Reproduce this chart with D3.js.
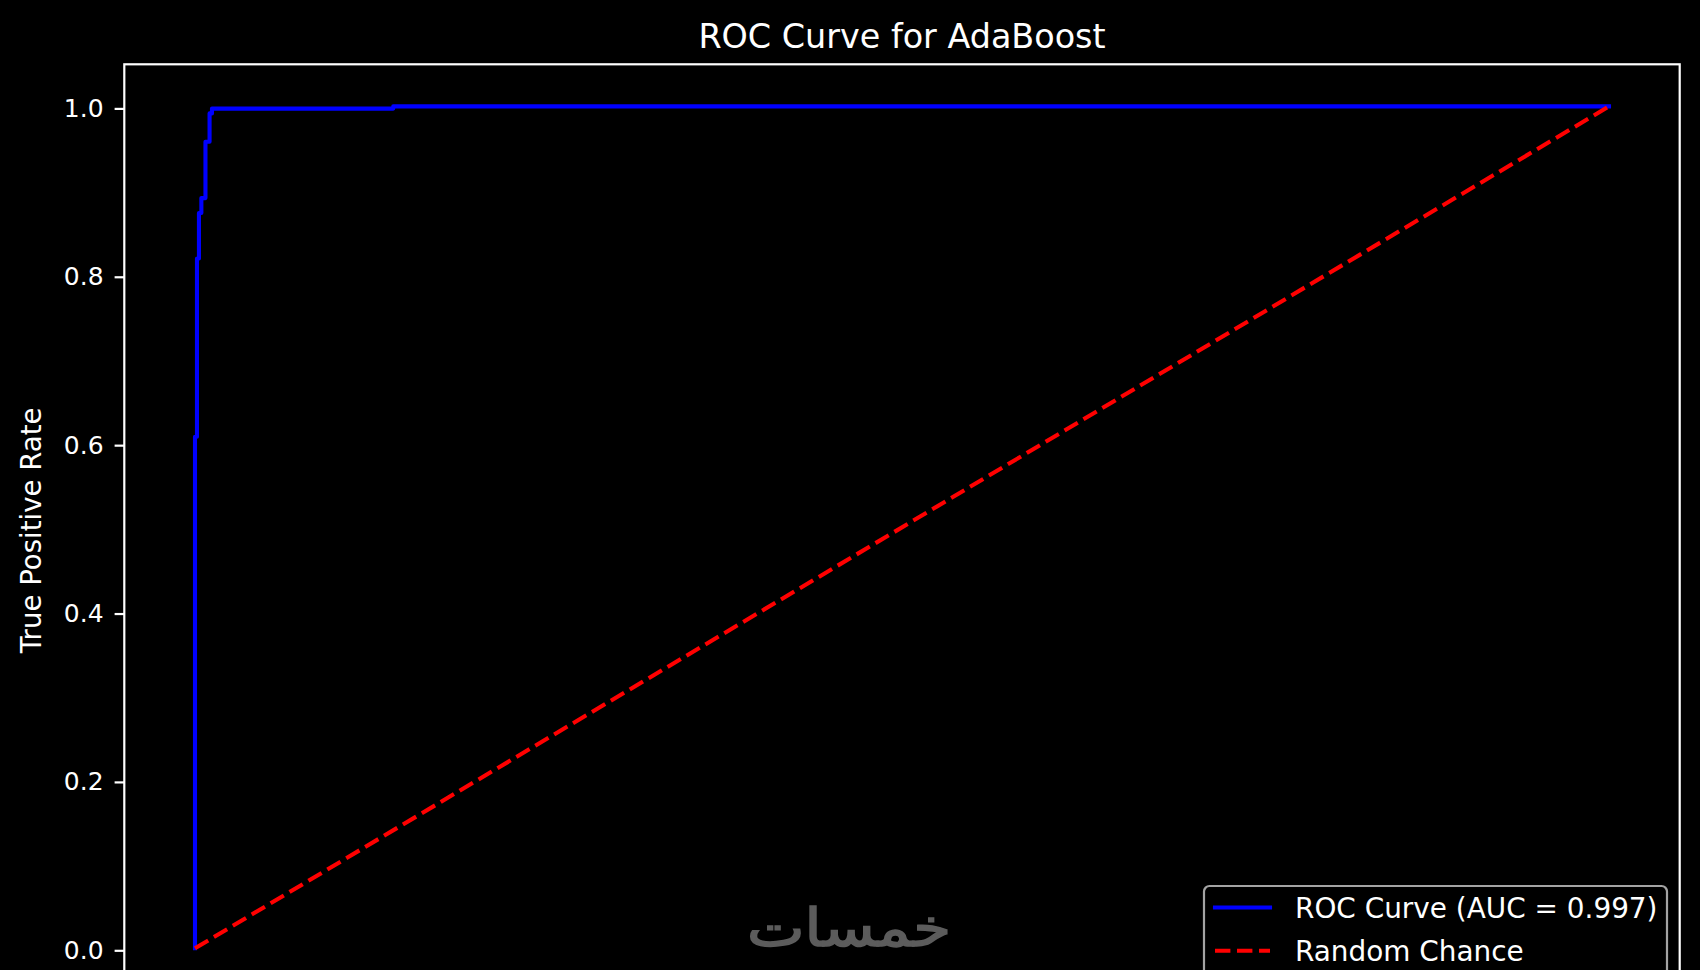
<!DOCTYPE html>
<html>
<head>
<meta charset="utf-8">
<script src="https://cdn.jsdelivr.net/npm/d3@7"></script>
<style>
  html, body { margin: 0; padding: 0; background: #000; overflow: hidden; }
  svg { display: block; }
  text { font-family: "DejaVu Sans", sans-serif; fill: #fff; }
</style>
</head>
<body>
<svg id="chart" width="1700" height="970"></svg>
<script>
// ---- data ----
const rocFpr = [0, 0, 0.0014, 0.0014, 0.0028, 0.0028, 0.0045, 0.0045, 0.0074, 0.0074, 0.0103, 0.0103, 0.0120, 0.0120, 0.1402, 0.1402, 1];
const rocTpr = [0, 0.6076, 0.6076, 0.8193, 0.8193, 0.8733, 0.8733, 0.8911, 0.8911, 0.958, 0.958, 0.9917, 0.9917, 0.9974, 0.9974, 1, 1];
const chanceFpr = [0, 1];
const chanceTpr = [0, 1];
const aucValue = [0.997];
const yTicks = [0, 0.2, 0.4, 0.6, 0.8, 1.0];
const titleText = "ROC Curve for AdaBoost";
const yLabelText = "True Positive Rate";
const legendLabels = ["ROC Curve (AUC = " + aucValue[0].toFixed(3) + ")", "Random Chance"];
const watermarkText = "خمسات";

// ---- layout ----
const svg = d3.select("#chart");
const L = 124.3, R = 1679.7, T = 64.3, B = 990.4;

const x = d3.scaleLinear().domain([-0.05, 1.05]).range([L, R]);
const y = d3.scaleLinear().domain([-0.05, 1.05]).range([B, T]);

svg.append("rect").attr("width", 1700).attr("height", 970).attr("fill", "#000");

svg.append("defs").append("clipPath").attr("id", "clip")
  .append("rect").attr("x", L).attr("y", T).attr("width", R - L).attr("height", B - T);

const plot = svg.append("g").attr("clip-path", "url(#clip)");

const line = d3.line().x(d => x(d[0])).y(d => y(d[1]));

const rocData = rocFpr.map((f, i) => [f, rocTpr[i]]);
const chanceData = chanceFpr.map((f, i) => [f, chanceTpr[i]]);

plot.append("path").datum(rocData)
  .attr("d", line).attr("fill", "none").attr("stroke", "#0000ff")
  .attr("stroke-width", 4.1).attr("stroke-linecap", "square").attr("stroke-linejoin", "round");

plot.append("path").datum(chanceData)
  .attr("d", line).attr("fill", "none").attr("stroke", "#ff0000")
  .attr("stroke-width", 4.1).attr("stroke-dasharray", "15.4,6.6").attr("stroke-linecap", "butt");

// frame
svg.append("rect").attr("x", L).attr("y", T).attr("width", R - L).attr("height", B - T)
  .attr("fill", "none").attr("stroke", "#fff").attr("stroke-width", 2.2);

// y axis
const yAxis = d3.axisLeft(y).tickValues(yTicks).tickFormat(d3.format(".1f"))
  .tickSize(9.7).tickPadding(11);
const gy = svg.append("g").attr("transform", `translate(${L},2)`).call(yAxis);
gy.select(".domain").remove();
gy.selectAll(".tick line").attr("stroke", "#fff").attr("stroke-width", 2.2);
gy.selectAll(".tick text").attr("fill", "#fff").style("font-size", "25px")
  .style("font-family", "'DejaVu Sans', sans-serif");

// y label
svg.append("text")
  .attr("transform", `translate(41,${(T + B) / 2 + 3}) rotate(-90)`)
  .attr("text-anchor", "middle")
  .style("font-size", "27.6px")
  .text(yLabelText);

// title
svg.append("text")
  .attr("x", (L + R) / 2).attr("y", 48)
  .attr("text-anchor", "middle")
  .style("font-size", "33.4px")
  .text(titleText);

// watermark
svg.append("text")
  .attr("x", 849).attr("y", 946)
  .attr("text-anchor", "middle")
  .attr("textLength", 204).attr("lengthAdjust", "spacingAndGlyphs")
  .style("font-size", "52px")
  .style("fill", "#5c5c5c")
  .style("stroke", "#5c5c5c").style("stroke-width", "1.6px")
  .attr("direction", "rtl")
  .text(watermarkText);

// legend
const lg = svg.append("g");
lg.append("rect").attr("x", 1204).attr("y", 886).attr("width", 463).attr("height", 110)
  .attr("rx", 5.5).attr("ry", 5.5)
  .attr("fill", "#000").attr("fill-opacity", 0.8)
  .attr("stroke", "#a3a3a3").attr("stroke-width", 2.2);

const legendColors = ["#0000ff", "#ff0000"];
const legendDash = [null, "15.4,6.6"];
const legendCaps = ["square", "butt"];
legendLabels.forEach((lab, i) => {
  const cy = 907.5 + i * 43.2;
  lg.append("line").attr("x1", 1215).attr("x2", 1270).attr("y1", cy).attr("y2", cy)
    .attr("stroke", legendColors[i]).attr("stroke-width", 4.1)
    .attr("stroke-linecap", legendCaps[i])
    .attr("stroke-dasharray", legendDash[i]);
  lg.append("text").attr("x", 1295).attr("y", cy + 10.5)
    .style("font-size", "27.9px").text(lab);
});
</script>
</body>
</html>
